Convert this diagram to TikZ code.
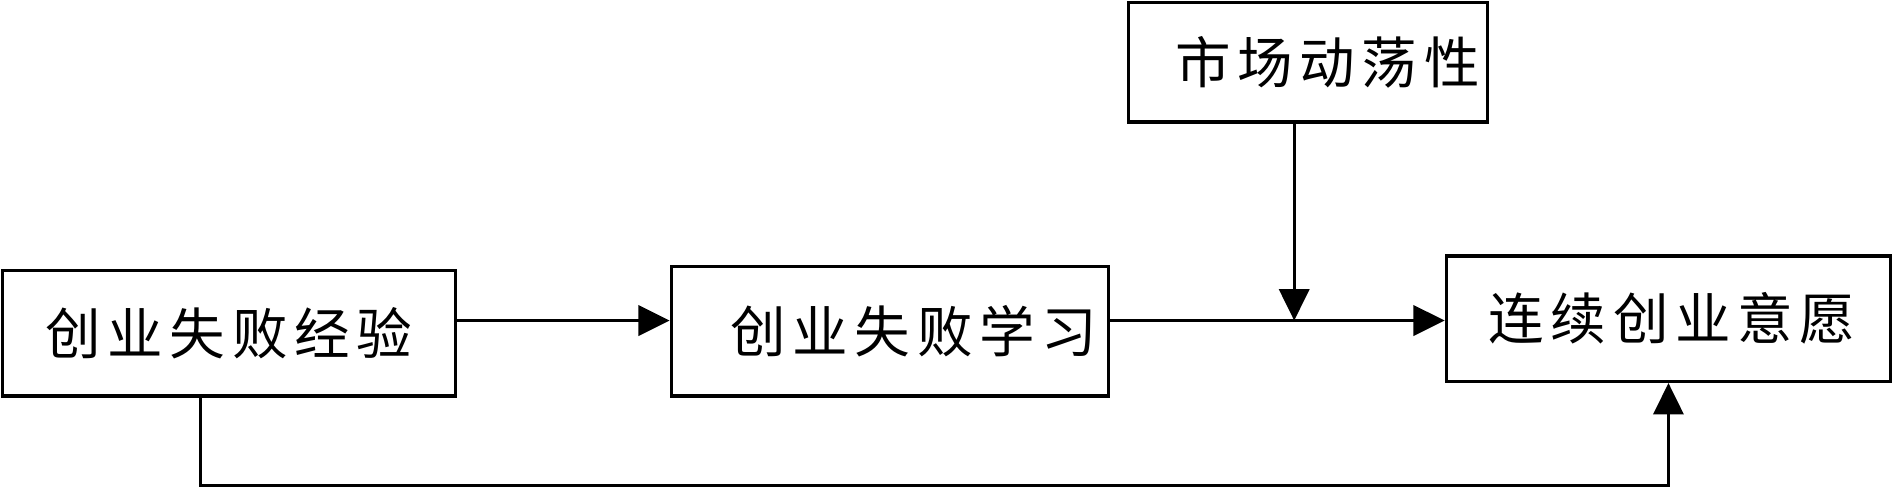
\documentclass[tikz,border=0pt]{standalone}
\usepackage{fontspec}
\newfontfamily\cjk{Noto Sans CJK SC}[LetterSpace=12]
\usetikzlibrary{arrows.meta}
\begin{document}
\begin{tikzpicture}[x=1pt,y=-1pt,
  box/.style={draw, line width=2.6pt, rectangle, inner sep=0pt, font=\cjk\fontsize{46}{46}\selectfont},
  conn/.style={line width=2.4pt},
  arr/.style={conn, -{Triangle[length=26pt,width=25pt]}}]
\useasboundingbox (0,0) rectangle (1568,405);
\node[box, minimum width=375pt, minimum height=104pt] (b1) at (189.5,276) {\raisebox{3pt}{创业失败经验}};
\node[box, minimum width=362pt, minimum height=107pt] (b2) at (737,274.5) {\hspace{40pt}\raisebox{3pt}{创业失败学习}};
\node[box, minimum width=297pt, minimum height=99pt] (b3) at (1083.5,51.5) {\hspace{32pt}\raisebox{3pt}{市场动荡性}};
\node[box, minimum width=368pt, minimum height=104pt] (b4) at (1382,264) {\hspace{6pt}连续创业意愿};
\coordinate (t3) at (1072,101);
\coordinate (m) at (1072,265.5);
\draw[arr, line width=3pt] (b1.east |- 0,265.5) -- (b2.west |- 0,265.5);
\draw[arr, line width=3pt] (b2.east |- 0,265.5) -- (b4.west |- 0,265.5);
\draw[arr] (t3) -- (m);
\coordinate (c1) at (166,402.5);
\coordinate (c2) at (1382,402.5);
\draw[arr] (b1.south -| c1) -- (c1) -- (c2) -- (b4.south);
\end{tikzpicture}
\end{document}
